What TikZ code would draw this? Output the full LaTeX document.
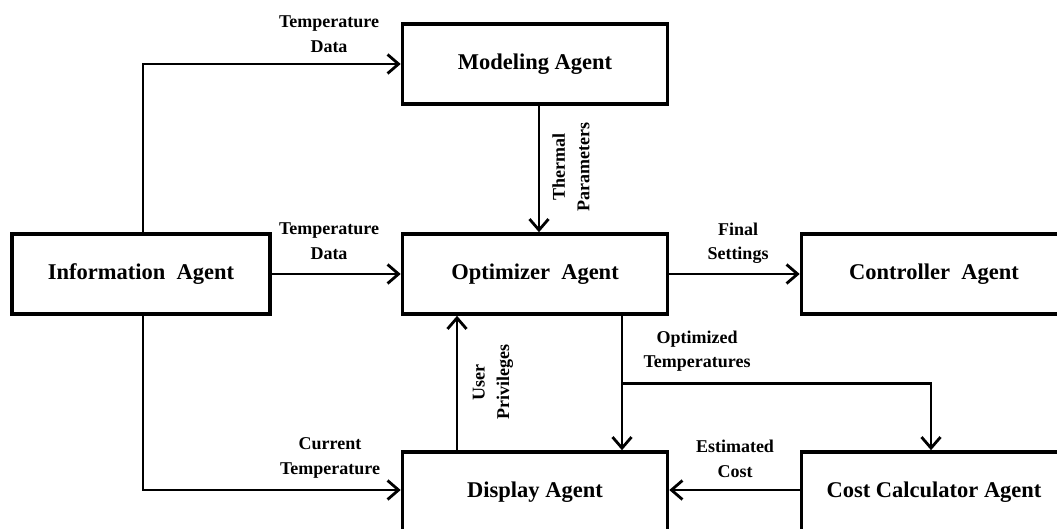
\documentclass[tikz,border=0pt]{standalone}
\usepackage{fontspec}
\setmainfont{Liberation Serif}
\usetikzlibrary{arrows.meta}
\tikzset{
  agent/.style={draw, line width=3.6pt, minimum width=265pt, minimum height=80pt, inner sep=0pt,
    font=\fontsize{22.5}{24}\selectfont\bfseries},
  flow/.style={line width=2.8pt, -{Straight Barb[length=11pt,width=19pt,line width=2.8pt]}},
  lbl/.style={align=center, inner sep=0pt, font=\fontsize{18}{24.5}\selectfont\bfseries},
}
\begin{document}
\begin{tikzpicture}[x=1pt,y=-1pt]
\useasboundingbox (0,0) rectangle (1057,528);
\fill[white] (0,0) rectangle (1057,528);
\clip (0,0) rectangle (1057,528);
\node[agent] (model) at (535,64) {Modeling Agent};
\node[agent, minimum width=258pt] (info) at (141,274) {Information\ \ Agent};
\node[agent] (opt) at (535,274) {Optimizer\ \ Agent};
\node[agent] (ctrl) at (934,274) {Controller\ \ Agent};
\node[agent] (disp) at (535,492) {Display Agent};
\node[agent] (cost) at (934,492) {Cost Calculator Agent};

\draw[flow] ([xshift=2pt]info.north) |- (model.west);
\draw[flow] (info.east) -- (opt.west);
\draw[flow] ([xshift=2pt]info.south) |- ([yshift=2pt]disp.west);
\draw[flow] ([xshift=4pt]model.south) -- ([xshift=4pt]opt.north);
\draw[flow] (opt.east) -- (ctrl.west);
\draw[flow] ([xshift=-78pt]disp.north) -- ([xshift=-78pt]opt.south);
\draw[flow] ([xshift=87pt]opt.south) -- ([xshift=87pt]disp.north);
\coordinate (br) at ([xshift=87pt,yshift=-68pt]opt.south);
\draw[flow] (br) -| ([xshift=-3pt]cost.north);
\draw[flow] ([yshift=2pt]cost.west) -- ([yshift=2pt]disp.east);

\node[lbl] (l1) at (329,34) {Temperature\\Data};
\node[lbl] (l2) at (329,241) {Temperature\\Data};
\node[lbl] (l3) at (330,458) {Current\\Temperature};
\node[lbl, rotate=90] (l4) at (571,167) {Thermal\\Parameters};
\node[lbl, rotate=90] (l5) at (493,382) {User\\Privileges};
\node[lbl] (l6) at (738,243) {Final\\Settings};
\node[lbl] (l7) at (697,351) {Optimized\\Temperatures};
\node[lbl] (l8) at (735,459) {Estimated\\Cost};
\end{tikzpicture}
\end{document}
